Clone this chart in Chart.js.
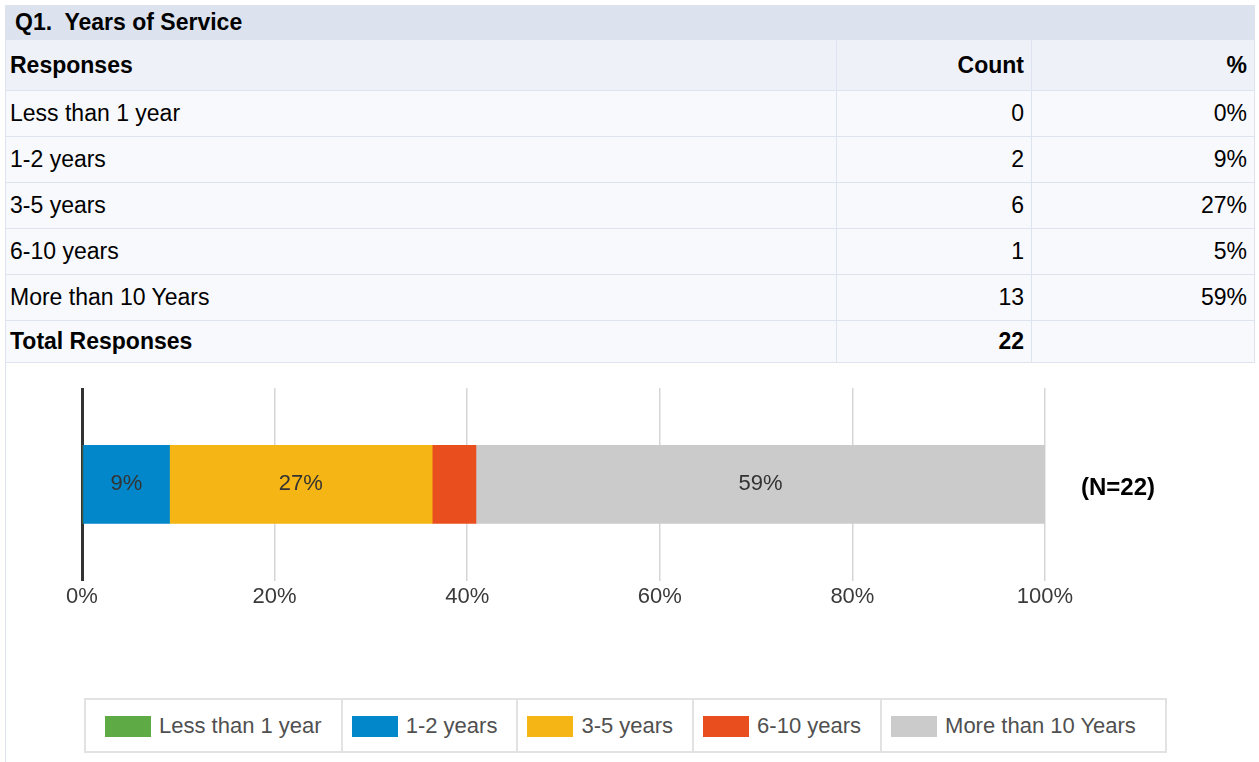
<!DOCTYPE html>
<html>
<head>
<meta charset="utf-8">
<script src="https://cdn.jsdelivr.net/npm/chart.js@4/dist/chart.umd.min.js"></script>
<style>
  body { margin: 0; background: #fff; font-family: "Liberation Sans", Arial, sans-serif; }
  #wrap { position: absolute; left: 5px; top: 5px; width: 1250px; }
  table { border-collapse: collapse; width: 1250px; font-size: 23px; color: #000; }
  td { border: 1px solid #dde3ef; padding: 0 7px 0 4px; }
  .title td { background: #dce3ef; font-weight: bold; height: 33px; padding-left: 9px; }
  .head td { background: #eef1f8; font-weight: bold; height: 50px; }
  .row td { background: #f8f9fc; height: 45px; }
  .total td { background: #f8f9fc; font-weight: bold; height: 41px; }
  .num { text-align: right; }
  #chartBox { position: relative; width: 1249px; height: 400px; border-left: 1px solid #dde3ef; }
  #legend { position: absolute; left: 78px; top: 335px; display: flex; border: 2px solid #e2e2e2; background: #fff;
    padding: 0 10px 0 10px; }
  #legend div { display: flex; align-items: center; height: 51px; padding: 0 19px 0 9px; border-left: 2px solid #e2e2e2;
    font-size: 22px; color: #505050; }
  #legend div:first-child { border-left: none; }
  #legend span { display: inline-block; width: 46px; height: 21px; margin-right: 8px; margin-top: 2px; }
</style>
</head>
<body>
<div id="wrap">
  <table id="tbl">
    <tr class="title"><td colspan="3">Q1.&nbsp; Years of Service</td></tr>
    <tr class="head"><td style="width:819px">Responses</td><td class="num" style="width:183px">Count</td><td class="num">%</td></tr>
  </table>
  <div id="chartBox">
    <canvas id="myChart" width="1249" height="400"></canvas>
    <div id="legend"></div>
  </div>
</div>
<script>
let categories = ['Less than 1 year', '1-2 years', '3-5 years', '6-10 years', 'More than 10 Years'];
let counts = [0, 2, 6, 1, 13];
let percentLabels = ['0%', '9%', '27%', '5%', '59%'];
let colors = ['#5eab46', '#0288ca', '#f5b514', '#e94e1f', '#cbcbcb'];
let tickLabels = ['0%', '20%', '40%', '60%', '80%', '100%'];
let total = 22;

// table rows
let tbl = document.getElementById('tbl');
categories.forEach((c, i) => {
    let tr = document.createElement('tr');
    tr.className = 'row';
    tr.innerHTML = '<td>' + c + '</td><td class="num">' + counts[i] + '</td><td class="num">' + percentLabels[i] + '</td>';
    tbl.appendChild(tr);
});
let tot = document.createElement('tr');
tot.className = 'total';
tot.innerHTML = '<td>Total Responses</td><td class="num">' + total + '</td><td></td>';
tbl.appendChild(tot);

// legend
let legend = document.getElementById('legend');
categories.forEach((c, i) => {
    let d = document.createElement('div');
    d.innerHTML = '<span style="background:' + colors[i] + '"></span>' + c;
    legend.appendChild(d);
});

const chartFont = '"Liberation Sans", Arial, sans-serif';

// labels inside bars + N label
const barLabels = {
    id: 'barLabels',
    afterDatasetsDraw(chart) {
        let ctx = chart.ctx;
        ctx.save();
        ctx.font = '22px ' + chartFont;
        ctx.fillStyle = '#333';
        ctx.textAlign = 'center';
        ctx.textBaseline = 'middle';
        chart.data.datasets.forEach((ds, i) => {
            let bar = chart.getDatasetMeta(i).data[0];
            if (ds.data[0] >= 8) {
                let x = (bar.x + bar.base) / 2;
                ctx.fillText(percentLabels[i], x, bar.y);
            }
        });
        let b = chart.getDatasetMeta(0).data[0];
        ctx.font = 'bold 24px ' + chartFont;
        ctx.fillStyle = '#000';
        ctx.textAlign = 'left';
        ctx.fillText('(N=' + total + ')', chart.chartArea.right + 36, b.y + 4);
        ctx.restore();
    }
};

let ctx = document.getElementById('myChart').getContext('2d');
new Chart(ctx, {
    type: 'bar',
    data: {
        labels: [''],
        datasets: categories.map((c, i) => ({
            label: c,
            data: [counts[i] / total * 100],
            backgroundColor: colors[i],
            borderWidth: 0,
            barThickness: 78
        }))
    },
    options: {
        indexAxis: 'y',
        responsive: false,
        animation: false,
        layout: { padding: { left: 76, right: 210, top: 25, bottom: 150 } },
        plugins: { legend: { display: false }, tooltip: { enabled: false } },
        scales: {
            x: {
                stacked: true,
                min: 0,
                max: 100,
                border: { display: false },
                grid: {
                    drawTicks: false,
                    color: c => c.index === 0 ? '#333' : '#d6d6d6',
                    lineWidth: c => c.index === 0 ? 3 : 1.5
                },
                ticks: {
                    stepSize: 20,
                    padding: 3,
                    color: '#3a3a3a',
                    font: { family: chartFont, size: 22 },
                    callback: (v, i) => tickLabels[i]
                }
            },
            y: { stacked: true, display: false }
        }
    },
    plugins: [barLabels]
});
</script>
</body>
</html>
